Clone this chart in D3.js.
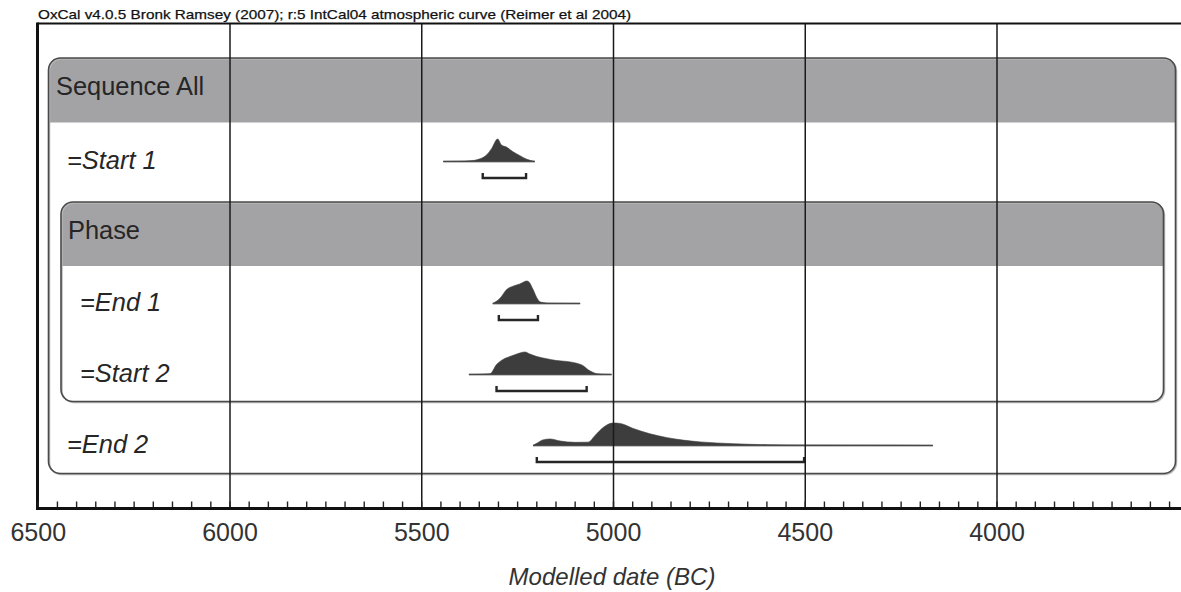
<!DOCTYPE html>
<html>
<head>
<meta charset="utf-8">
<script src="https://cdn.jsdelivr.net/npm/d3@7"></script>
<style>
  html, body { margin: 0; padding: 0; background: #fff; }
  svg { display: block; }
  text { font-family: "Liberation Sans", Arial, Helvetica, sans-serif; fill: #262626; }
</style>
</head>
<body>
<svg id="chart" width="1181" height="592"></svg>
<script>
// Modelled posterior densities, [year BC, relative probability]
const start1 = [[5444,0],[5400,0.01],[5374,0.03],[5348,0.12],[5331,0.29],[5318,0.57],[5302,1.0],[5292,0.73],[5279,0.64],[5262,0.43],[5244,0.26],[5226,0.1],[5205,0]];
const end1 = [[5315,0],[5296,0.23],[5278,0.63],[5262,0.77],[5244,0.87],[5226,1.0],[5220,0.95],[5210,0.63],[5200,0.26],[5192,0.08],[5184,0.04],[5165,0.01],[5087,0]];
const start2 = [[5377,0],[5322,0.03],[5305,0.44],[5288,0.67],[5270,0.8],[5252,0.91],[5231,1.0],[5218,0.91],[5200,0.8],[5174,0.7],[5148,0.62],[5122,0.58],[5096,0.5],[5080,0.4],[5066,0.21],[5053,0.09],[5043,0.03],[5005,0]];
const end2 = [[5210,0],[5200,0.1],[5184,0.25],[5166,0.29],[5139,0.2],[5100,0.14],[5066,0.15],[5048,0.45],[5027,0.8],[5001,1.0],[4983,0.98],[4949,0.76],[4905,0.52],[4860,0.35],[4819,0.24],[4774,0.16],[4688,0.08],[4600,0.035],[4514,0.02],[4383,0.015],[4253,0.01],[4167,0]];

// 95.4% highest posterior density ranges [from, to] (BC)
const range1 = [5341, 5228];
const range2 = [5299, 5197];
const range3 = [5305, 5070];
const range4 = [5200, 4503];

const rowNames = ["Sequence All", "=Start 1", "Phase", "=End 1", "=Start 2", "=End 2"];
const majorTicks = [6500, 6000, 5500, 5000, 4500, 4000];
const gridYears = [6000, 5500, 5000, 4500, 4000];
const minorTicks = d3.range(6500, 3450, -50);
const titleText = "OxCal v4.0.5 Bronk Ramsey (2007); r:5 IntCal04 atmospheric curve (Reimer et al 2004)";
const axisTitle = "Modelled date (BC)";

const distributions = [
  { row: "=Start 1", dens: start1, range: range1, indent: 67 },
  { row: "=End 1",   dens: end1,   range: range2, indent: 80 },
  { row: "=Start 2", dens: start2, range: range3, indent: 80 },
  { row: "=End 2",   dens: end2,   range: range4, indent: 67 }
];

const svg = d3.select("#chart");
const frameTop = 23.5, axisY = 508.5, frameLeft = 37.5;

const x = d3.scaleLinear().domain([6500, 3500]).range([38.25, 38.25 + 3000 * 0.3835]);
const row = d3.scaleBand().domain(rowNames).range([56.5, 56.5 + 71 * rowNames.length]);
const h = d3.scaleLinear().domain([0, 1]).range([0, 22.5]);

// Title
svg.append("text")
  .attr("x", 38).attr("y", 19)
  .attr("font-size", 13.5)
  .attr("textLength", 593).attr("lengthAdjust", "spacingAndGlyphs")
  .style("fill", "#111").style("stroke", "#111").style("stroke-width", 0.25)
  .text(titleText);

// Grouping boxes (Sequence and Phase) with grey headers
function groupBox(id, x0, x1, y0, y1, headerH, label, lx) {
  const r = 12;
  const clip = svg.append("clipPath").attr("id", id);
  clip.append("rect").attr("x", x0).attr("y", y0).attr("width", x1 - x0).attr("height", y1 - y0).attr("rx", r);
  svg.append("rect").attr("x", x0).attr("y", y0).attr("width", x1 - x0).attr("height", y1 - y0)
    .attr("rx", r).attr("fill", "#fff");
  svg.append("rect").attr("x", x0).attr("y", y0).attr("width", x1 - x0).attr("height", headerH)
    .attr("fill", "#a3a3a6").attr("clip-path", `url(#${id})`);
  svg.append("rect").attr("x", x0 + 1).attr("y", y0 + 1).attr("width", x1 - x0).attr("height", y1 - y0)
    .attr("rx", r).attr("fill", "none").attr("stroke", "#b8b8b8").attr("stroke-width", 1.5);
  svg.append("rect").attr("x", x0).attr("y", y0).attr("width", x1 - x0).attr("height", y1 - y0)
    .attr("rx", r).attr("fill", "none").attr("stroke", "#4a4a4a").attr("stroke-width", 1.6);
  svg.append("text").attr("x", lx).attr("y", y0 + 36.5).attr("font-size", 25.4).text(label);
}

const seqTop = row("Sequence All") + 1.5;
groupBox("clipSeq", 48.5, 1175.5, seqTop, 473.5, 64.5, "Sequence All", 56);
const phTop = row("Phase") + 3.5;
groupBox("clipPhase", 61, 1163.5, phTop, 401.5, 64, "Phase", 68);

// Posterior distributions with their ranges
const area = d3.area()
  .x(d => x(d[0]))
  .y0(0)
  .y1(d => -h(d[1]))
  .curve(d3.curveMonotoneX);

distributions.forEach(dd => {
  const base = row(dd.row) + 34;
  const g = svg.append("g").attr("transform", `translate(0,${base})`);
  g.append("line")
    .attr("x1", x(dd.dens[0][0])).attr("x2", x(dd.dens[dd.dens.length - 1][0]))
    .attr("y1", 0).attr("y2", 0)
    .attr("stroke", "#8a8a8a").attr("stroke-width", 1.8);
  g.append("path").datum(dd.dens).attr("d", area)
    .attr("fill", "#3d3d3d").attr("stroke", "#3d3d3d").attr("stroke-width", 0.6);
  const by = 16.5;
  g.append("path")
    .attr("d", `M${x(dd.range[0])},${by - 5}V${by}H${x(dd.range[1])}V${by - 5}`)
    .attr("fill", "none").attr("stroke", "#262626").attr("stroke-width", 2.4);
  svg.append("text")
    .attr("x", dd.indent).attr("y", base + 7.5)
    .attr("font-size", 25.4).attr("font-style", "italic")
    .text(dd.row);
});

// Vertical gridlines at every 500 years
svg.append("g").selectAll("line").data(gridYears).join("line")
  .attr("x1", d => x(d)).attr("x2", d => x(d))
  .attr("y1", frameTop).attr("y2", axisY)
  .attr("stroke", "#1a1a1a").attr("stroke-width", 1.5);

// Frame
svg.append("line").attr("x1", frameLeft).attr("x2", 1181).attr("y1", frameTop).attr("y2", frameTop)
  .attr("stroke", "#111").attr("stroke-width", 2.2);
svg.append("line").attr("x1", frameLeft).attr("x2", frameLeft).attr("y1", frameTop - 1).attr("y2", axisY + 1.5)
  .attr("stroke", "#111").attr("stroke-width", 3);

// Bottom axis: minor ticks every 50 years
svg.append("g").selectAll("line").data(minorTicks).join("line")
  .attr("x1", d => x(d)).attr("x2", d => x(d))
  .attr("y1", axisY).attr("y2", axisY - 7)
  .attr("stroke", "#222").attr("stroke-width", 1.4);
svg.append("line").attr("x1", frameLeft - 1.5).attr("x2", 1181).attr("y1", axisY).attr("y2", axisY)
  .attr("stroke", "#111").attr("stroke-width", 3);

svg.append("g").selectAll("text").data(majorTicks).join("text")
  .attr("x", d => x(d)).attr("y", axisY + 32)
  .attr("text-anchor", "middle").attr("font-size", 25)
  .style("fill", "#333")
  .text(d => d);

svg.append("text")
  .attr("x", 612).attr("y", 585)
  .attr("text-anchor", "middle").attr("font-size", 24).attr("font-style", "italic")
  .style("fill", "#333")
  .text(axisTitle);
</script>
</body>
</html>
